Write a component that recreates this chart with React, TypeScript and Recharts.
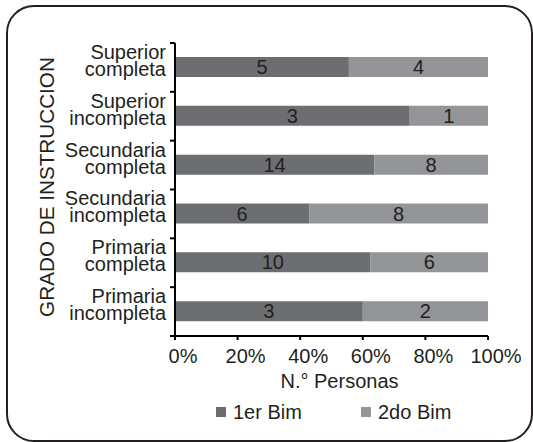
import React from 'react';
import { BarChart, Bar, XAxis, YAxis, Legend, LabelList, Label } from 'recharts';

const categories = [
  'Superior completa',
  'Superior incompleta',
  'Secundaria completa',
  'Secundaria incompleta',
  'Primaria completa',
  'Primaria incompleta',
];
const bim1 = [5, 3, 14, 6, 10, 3];
const bim2 = [4, 1, 8, 8, 6, 2];
const xTicks = [0, 0.2, 0.4, 0.6, 0.8, 1];
const seriesNames = ['1er Bim', '2do Bim'];
const seriesColors = ['#6d6e71', '#939598'];

const data = categories.map((name, i) => ({ name, bim1: bim1[i], bim2: bim2[i] }));

const W = 533;
const H = 442;
const margin = { top: 43, right: 45, bottom: 76, left: 0 };
const X_AXIS_H = 30;
const Y_AXIS_W = 175;
const plotH = H - margin.top - margin.bottom - X_AXIS_H;
const band = plotH / categories.length;
const FONT = 'Liberation Sans, Arial, Helvetica, sans-serif';
const TEXT = '#231f20';
const FS = 20;

const YTick = (props: any) => {
  const { x, y, payload, index } = props;
  const ax = x + 9;
  const parts = String(payload.value).split(' ');
  return (
    <g>
      <line x1={ax - 5} x2={ax} y1={y - band / 2} y2={y - band / 2} stroke="#000" strokeWidth={2} />
      {index === categories.length - 1 && (
        <line x1={ax - 5} x2={ax} y1={y + band / 2} y2={y + band / 2} stroke="#000" strokeWidth={2} />
      )}
      <text textAnchor="end" fill={TEXT} fontSize={FS} fontFamily={FONT}>
        <tspan x={x} y={y - 8.5}>{parts[0]}</tspan>
        <tspan x={x} y={y + 8.5}>{parts.slice(1).join(' ')}</tspan>
      </text>
    </g>
  );
};

const XTick = (props: any) => {
  const { x, y, payload } = props;
  return (
    <text x={x + 8} y={y} dy="0.71em" textAnchor="middle" fill={TEXT} fontSize={FS} fontFamily={FONT}>
      {`${Math.round(payload.value * 100)}%`}
    </text>
  );
};

const LegendContent = () => (
  <div style={{ display: 'flex', fontFamily: FONT, fontSize: FS, color: TEXT, lineHeight: '20px' }}>
    {seriesNames.map((n, i) => (
      <div key={n} style={{ display: 'flex', alignItems: 'center', width: 145 }}>
        <span style={{ display: 'inline-block', width: 10, height: 10, background: seriesColors[i], marginRight: 7 }} />
        <span>{n}</span>
      </div>
    ))}
  </div>
);

export default function App() {
  return (
    <div style={{ position: 'absolute', left: 0, top: 0, width: W, height: H, background: '#fff', fontFamily: FONT }}>
      <div
        style={{
          position: 'absolute',
          left: 6,
          top: 5,
          width: 525 - 2.5,
          height: 435 - 2.5,
          border: '2.5px solid #231f20',
          borderRadius: 28,
        }}
      />
      <BarChart
        width={W}
        height={H}
        data={data}
        layout="vertical"
        stackOffset="expand"
        margin={margin}
        style={{ position: 'absolute', left: 0, top: 0, fontFamily: FONT }}
      >
        <XAxis
          type="number"
          domain={[0, 1]}
          ticks={xTicks}
          height={X_AXIS_H}
          axisLine={{ stroke: '#000', strokeWidth: 2 }}
          tickLine={{ stroke: '#000', strokeWidth: 2 }}
          tickSize={4}
          tickMargin={9}
          tick={<XTick />}
          interval={0}
        >
          <Label
            content={(p: any) => {
              const vb = p.viewBox;
              return (
                <text x={vb.x + vb.width / 2 + 8} y={388} textAnchor="middle" fill={TEXT} fontSize={FS} fontFamily={FONT}>
                  N.° Personas
                </text>
              );
            }}
          />
        </XAxis>
        <YAxis
          type="category"
          dataKey="name"
          width={Y_AXIS_W}
          axisLine={{ stroke: '#000', strokeWidth: 2 }}
          tickLine={false}
          tickSize={0}
          tickMargin={9}
          tick={<YTick />}
          interval={0}
        >
          <Label
            content={() => (
              <text
                x={46}
                y={187}
                transform="rotate(-90 46 187)"
                textAnchor="middle"
                dominantBaseline="central"
                fill={TEXT}
                fontSize={20.7}
                fontFamily={FONT}
              >
                GRADO DE INSTRUCCION
              </text>
            )}
          />
        </YAxis>
        <Legend
          layout="horizontal"
          verticalAlign="middle"
          align="center"
          wrapperStyle={{ position: 'absolute', top: 402, left: 216, width: 300 }}
          content={<LegendContent />}
        />
        <Bar dataKey="bim1" name={seriesNames[0]} stackId="a" fill={seriesColors[0]} barSize={20} isAnimationActive={false}>
          <LabelList dataKey="bim1" position="center" fill={TEXT} fontSize={FS} fontFamily={FONT} />
        </Bar>
        <Bar dataKey="bim2" name={seriesNames[1]} stackId="a" fill={seriesColors[1]} barSize={20} isAnimationActive={false}>
          <LabelList dataKey="bim2" position="center" fill={TEXT} fontSize={FS} fontFamily={FONT} />
        </Bar>
      </BarChart>
    </div>
  );
}
